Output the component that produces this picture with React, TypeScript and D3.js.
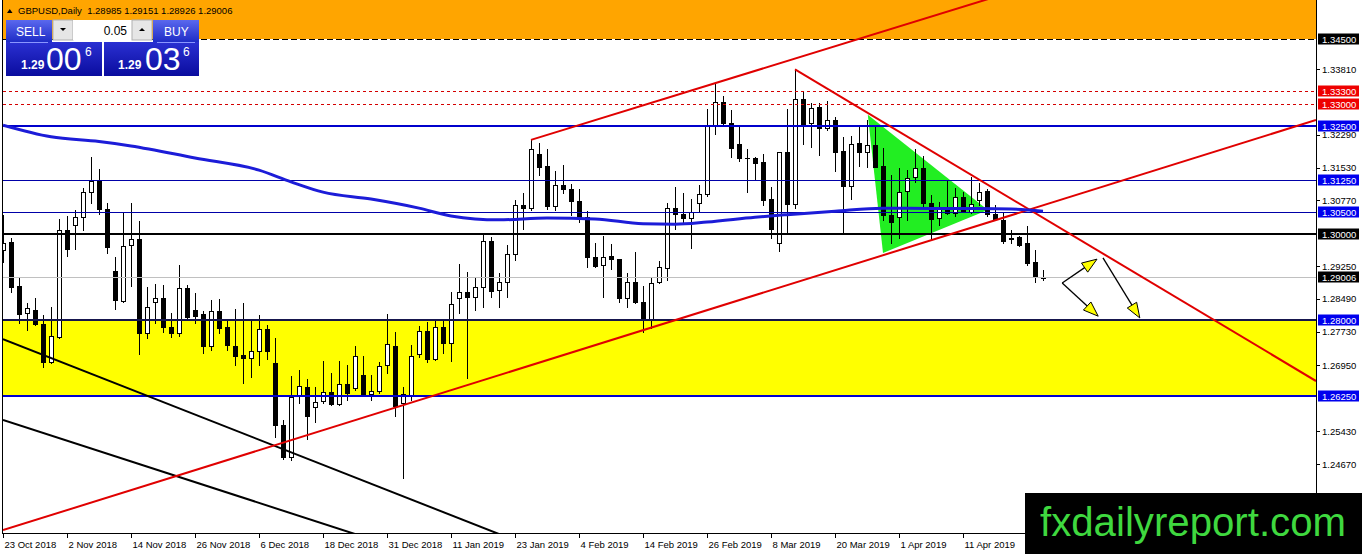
import * as d3 from "d3";
import React from "react";

// GBPUSD daily, 23 Oct 2018 .. 25 Apr 2019 (one bar per trading day)
const dateLabels = ["23 Oct 2018", "2 Nov 2018", "14 Nov 2018", "26 Nov 2018", "6 Dec 2018", "18 Dec 2018", "31 Dec 2018", "11 Jan 2019", "23 Jan 2019", "4 Feb 2019", "14 Feb 2019", "26 Feb 2019", "8 Mar 2019", "20 Mar 2019", "1 Apr 2019", "11 Apr 2019"];
const labelEvery = 8;

const opens = [
  1.2962, 1.2981, 1.2879, 1.2816, 1.2823, 1.2791, 1.2704, 1.2760, 1.3009, 1.3020,
  1.3038, 1.3096, 1.3122, 1.3056, 1.2914, 1.2844, 1.2974, 1.2987, 1.2769, 1.2841,
  1.2850, 1.2785, 1.2769, 1.2874, 1.2823, 1.2813, 1.2741, 1.2822, 1.2783, 1.2740,
  1.2719, 1.2712, 1.2729, 1.2779, 1.2700, 1.2557, 1.2483, 1.2627, 1.2646, 1.2598,
  1.2613, 1.2633, 1.2605, 1.2651, 1.2642, 1.2673, 1.2628, 1.2637, 1.2695, 1.2740,
  1.2607, 1.2627, 1.2721, 1.2775, 1.2709, 1.2783, 1.2746, 1.2850, 1.2864, 1.2854,
  1.2876, 1.2983, 1.2870, 1.2887, 1.2952, 1.3066, 1.3060, 1.3184, 1.3157, 1.3064,
  1.3113, 1.3103, 1.3076, 1.3038, 1.2947, 1.2928, 1.2948, 1.2941, 1.2852, 1.2888,
  1.2841, 1.2800, 1.2888, 1.2920, 1.3059, 1.3045, 1.3036, 1.3070, 1.3091, 1.3249,
  1.3304, 1.3257, 1.3207, 1.3174, 1.3176, 1.3165, 1.3080, 1.2979, 1.3188, 1.3069,
  1.3311, 1.3255, 1.3292, 1.3244, 1.3262, 1.3191, 1.3111, 1.3209, 1.3190, 1.3205,
  1.3157, 1.3043, 1.3038, 1.3099, 1.3132, 1.3153, 1.3070, 1.3036, 1.3056, 1.3047,
  1.3084, 1.3051, 1.3078, 1.3099, 1.3045, 1.3032, 1.2990, 1.2993, 1.2978, 1.2934,
  1.28985,
];
const highs = [
  1.3043, 1.2989, 1.2897, 1.2839, 1.2850, 1.2812, 1.2831, 1.3033, 1.3041, 1.3055,
  1.3106, 1.3177, 1.3150, 1.3070, 1.2945, 1.3049, 1.3072, 1.3030, 1.2877, 1.2883,
  1.2881, 1.2817, 1.2927, 1.2881, 1.2863, 1.2820, 1.2847, 1.2848, 1.2800, 1.2825,
  1.2840, 1.2800, 1.2812, 1.2788, 1.2758, 1.2569, 1.2671, 1.2685, 1.2664, 1.2646,
  1.2705, 1.2677, 1.2705, 1.2696, 1.2739, 1.2717, 1.2673, 1.2704, 1.2814, 1.2772,
  1.2646, 1.2742, 1.2786, 1.2796, 1.2800, 1.2800, 1.2864, 1.2929, 1.2912, 1.2897,
  1.3001, 1.2993, 1.2908, 1.2974, 1.3079, 1.3095, 1.3217, 1.3209, 1.3197, 1.3145,
  1.3160, 1.3116, 1.3103, 1.3053, 1.2978, 1.2995, 1.2976, 1.2942, 1.2908, 1.2958,
  1.2878, 1.2897, 1.2937, 1.3070, 1.3109, 1.3095, 1.3080, 1.3113, 1.3288, 1.3348,
  1.3319, 1.3286, 1.3249, 1.3197, 1.3177, 1.3184, 1.3109, 1.3189, 1.3288, 1.3380,
  1.3329, 1.3302, 1.3302, 1.3308, 1.3271, 1.3223, 1.3226, 1.3246, 1.3262, 1.3248,
  1.3198, 1.3136, 1.3151, 1.3147, 1.3195, 1.3180, 1.3089, 1.3074, 1.3122, 1.3105,
  1.3097, 1.3132, 1.3118, 1.3103, 1.3066, 1.3047, 1.3009, 1.2995, 1.3018, 1.2962,
  1.29151,
];
const lows = [
  1.2935, 1.2866, 1.2794, 1.2777, 1.2789, 1.2692, 1.2700, 1.2758, 1.2948, 1.2964,
  1.3009, 1.3070, 1.3046, 1.2956, 1.2825, 1.2843, 1.2879, 1.2722, 1.2758, 1.2793,
  1.2773, 1.2762, 1.2763, 1.2802, 1.2794, 1.2723, 1.2731, 1.2769, 1.2731, 1.2696,
  1.2655, 1.2669, 1.2696, 1.2709, 1.2530, 1.2478, 1.2476, 1.2607, 1.2526, 1.2565,
  1.2607, 1.2604, 1.2604, 1.2615, 1.2638, 1.2625, 1.2614, 1.2632, 1.2678, 1.2579,
  1.2434, 1.2614, 1.2714, 1.2704, 1.2708, 1.2723, 1.2705, 1.2817, 1.2666, 1.2823,
  1.2831, 1.2854, 1.2830, 1.2853, 1.2939, 1.3010, 1.3055, 1.3136, 1.3056, 1.3055,
  1.3095, 1.3043, 1.3028, 1.2922, 1.2924, 1.2854, 1.2918, 1.2843, 1.2831, 1.2839,
  1.2773, 1.2781, 1.2885, 1.2893, 1.3010, 1.3024, 1.2966, 1.3049, 1.3087, 1.3231,
  1.3254, 1.3177, 1.3167, 1.3097, 1.3124, 1.3066, 1.2989, 1.2959, 1.3002, 1.3059,
  1.3208, 1.3200, 1.3182, 1.3240, 1.3144, 1.3002, 1.3080, 1.3157, 1.3155, 1.3154,
  1.3032, 1.2978, 1.2990, 1.3032, 1.3120, 1.3062, 1.2985, 1.3020, 1.3046, 1.3041,
  1.3049, 1.3047, 1.3066, 1.3041, 1.3031, 1.2978, 1.2979, 1.2972, 1.2928, 1.2887,
  1.28926,
];
const closes = [
  1.2978, 1.2877, 1.2814, 1.2827, 1.2791, 1.2704, 1.2763, 1.3009, 1.2964, 1.3038,
  1.3096, 1.3122, 1.3056, 1.2968, 1.2847, 1.2972, 1.2987, 1.2769, 1.2830, 1.2850,
  1.2783, 1.2771, 1.2874, 1.2808, 1.2810, 1.2741, 1.2822, 1.2781, 1.2742, 1.2717,
  1.2712, 1.2729, 1.2779, 1.2729, 1.2557, 1.2483, 1.2623, 1.2648, 1.2579, 1.2611,
  1.2634, 1.2605, 1.2651, 1.2631, 1.2717, 1.2627, 1.2637, 1.2694, 1.2744, 1.2602,
  1.2628, 1.2717, 1.2775, 1.2709, 1.2783, 1.2746, 1.2837, 1.2864, 1.2854, 1.2876,
  1.2983, 1.2868, 1.2887, 1.2952, 1.3066, 1.3060, 1.3196, 1.3155, 1.3064, 1.3113,
  1.3103, 1.3076, 1.3038, 1.2945, 1.2925, 1.2947, 1.2941, 1.2852, 1.2888, 1.2841,
  1.2800, 1.2885, 1.2922, 1.3059, 1.3045, 1.3036, 1.3049, 1.3091, 1.3249, 1.3304,
  1.3257, 1.3199, 1.3174, 1.3175, 1.3164, 1.3078, 1.3010, 1.3188, 1.3069, 1.3311,
  1.3254, 1.3290, 1.3244, 1.3262, 1.3190, 1.3111, 1.3207, 1.3190, 1.3205, 1.3155,
  1.3043, 1.3028, 1.3097, 1.3128, 1.3153, 1.3070, 1.3033, 1.3056, 1.3047, 1.3084,
  1.3051, 1.3068, 1.3097, 1.3045, 1.3034, 1.2984, 1.2988, 1.2974, 1.2933, 1.2899,
  1.29006,
];

// 200-day moving average, read at a few bars
const maBars = [0, 6, 12, 16, 24, 32, 36, 40, 46, 52, 56, 62, 68, 74, 80, 84, 88, 94, 98, 104, 110, 116, 122, 126, 130];
const maValues = [1.3251, 1.3224, 1.3213, 1.3203, 1.3175, 1.3147, 1.3120, 1.3096, 1.3080, 1.3059, 1.3041, 1.3032, 1.3036, 1.3034, 1.3023, 1.3022, 1.3027, 1.3038, 1.3044, 1.3052, 1.3059, 1.3058, 1.3058, 1.3057, 1.3052];

// price scale labels
const scaleTicks = [1.3381, 1.3229, 1.3153, 1.3077, 1.2925, 1.2849, 1.2773, 1.2695, 1.2543, 1.2467, 1.2391];

// horizontal levels
const levels = [1.345, 1.333, 1.33, 1.325, 1.3125, 1.305, 1.3, 1.28, 1.2625];
const bidPrice = 1.29006;
const resistanceZone = [1.345, 1.36];
const supportZone = [1.2625, 1.28];

// trend lines as [bar, price] pairs
const channelLow = [[0, 1.2314], [164.125, 1.3263]];
const channelHigh = [[66, 1.3217], [130, 1.3582]];
const fallingLine = [[99, 1.3380], [164.125, 1.2659]];
const blackUpper = [[0, 1.2756], [62, 1.2305]];
const blackLower = [[0, 1.2569], [44, 1.2305]];
const pennant = [[108.1, 1.3275], [110, 1.2955], [123.1, 1.3055]];

// projection arrows
const arrowStarts = [[132.4, 1.2886], [132.4, 1.2886], [137.5, 1.2944]];
const arrowEnds = [[136.75, 1.2941], [136.9, 1.2809], [142.1, 1.2805]];

const W = 1362;
const H = 554;
const plotL = 3;
const plotR = 1316;
const plotB = 533;

const lvlStroke = ["#000000", "#d40000", "#d40000", "#0000cc", "#0000a8", "#0000a8", "#000000", "#16164e", "#0000cc"];
const lvlWidth = [1, 1, 1, 2, 1, 1, 2, 2, 2];
const lvlDash = ["6,3", "3,3", "3,3", "", "", "", "", "", ""];
const lvlLabel = ["#000000", "#ee0000", "#ee0000", "#0000ee", "#0000ee", "#0000ee", "#000000", "#0000ee", "#0000ee"];

const App = () => {
  React.useEffect(() => {
    document.body.style.margin = "0";
  }, []);

  const x = d3.scaleLinear().domain([0, 130]).range([3, 1043]);
  const y = d3.scaleLinear().domain([1.2467, 1.3381]).range([464, 69]);

  const seg = (p: number[][]) => `M${x(p[0][0])},${y(p[0][1])}L${x(p[1][0])},${y(p[1][1])}`;
  const crisp = (v: number, w: number) => (w % 2 === 1 ? Math.round(v) + 0.5 : Math.round(v));

  const maLine = d3.line<number>()
    .x((d, i) => x(maBars[i]))
    .y((d) => y(d))
    .curve(d3.curveMonotoneX);

  const font = "'Liberation Sans', Arial, sans-serif";

  const arrowHead = (s: number[], e: number[]) => {
    const x1 = x(s[0]), y1 = y(s[1]), x2 = x(e[0]), y2 = y(e[1]);
    const a = Math.atan2(y2 - y1, x2 - x1);
    const len = 15, half = 5.5;
    const bx = x2 - len * Math.cos(a), by = y2 - len * Math.sin(a);
    const px = -Math.sin(a) * half, py = Math.cos(a) * half;
    return { shaft: `M${x1},${y1}L${bx},${by}`, head: `${x2},${y2} ${bx + px},${by + py} ${bx - px},${by - py}` };
  };

  return (
    <svg width={W} height={H} style={{ position: "absolute", left: 0, top: 0, display: "block", fontFamily: font }}>
      <defs>
        <clipPath id="plot">
          <rect x={plotL} y={0} width={plotR - plotL} height={plotB} />
        </clipPath>
        <linearGradient id="btn" x1="0" y1="0" x2="0" y2="1">
          <stop offset="0" stopColor="#5a68ee" />
          <stop offset="1" stopColor="#1e2cc6" />
        </linearGradient>
        <linearGradient id="quote" x1="0" y1="0" x2="0" y2="1">
          <stop offset="0" stopColor="#2a30d2" />
          <stop offset="1" stopColor="#0a0c9e" />
        </linearGradient>
      </defs>
      <rect x={0} y={0} width={W} height={H} fill="#ffffff" />

      <g clipPath="url(#plot)">
        {/* zones */}
        <rect x={plotL} y={y(resistanceZone[1])} width={plotR - plotL} height={y(resistanceZone[0]) - y(resistanceZone[1])} fill="#ffa500" />
        <rect x={plotL} y={y(supportZone[1])} width={plotR - plotL} height={y(supportZone[0]) - y(supportZone[1])} fill="#ffff00" />
        <polygon points={pennant.map((p) => `${x(p[0])},${y(p[1])}`).join(" ")} fill="#22ee22" />

        {/* candles */}
        {opens.map((o, i) => {
          const c = closes[i];
          const px = Math.round(x(i));
          const top = Math.round(y(Math.max(o, c)));
          const bot = Math.round(y(Math.min(o, c)));
          const bull = c >= o;
          return (
            <g key={i}>
              <line x1={px + 0.5} x2={px + 0.5} y1={Math.round(y(highs[i]))} y2={Math.round(y(lows[i])) + 1} stroke="#000" />
              {bot - top < 1 ? (
                <line x1={px - 2} x2={px + 3} y1={top + 0.5} y2={top + 0.5} stroke="#000" />
              ) : (
                <rect x={px - 1.5} y={top + 0.5} width={4} height={bot - top} fill={bull ? "#fff" : "#000"} stroke="#000" />
              )}
            </g>
          );
        })}

        {/* levels */}
        <line x1={plotL} x2={plotR} y1={crisp(y(bidPrice), 1)} y2={crisp(y(bidPrice), 1)} stroke="#c0c0c0" />
        {levels.map((v, i) => (
          <g key={v}>
            {i === 0 && <line x1={plotL} x2={plotR} y1={crisp(y(v), 1)} y2={crisp(y(v), 1)} stroke="#fff" />}
            <line
              x1={plotL}
              x2={plotR}
              y1={crisp(y(v), lvlWidth[i])}
              y2={crisp(y(v), lvlWidth[i])}
              stroke={lvlStroke[i]}
              strokeWidth={lvlWidth[i]}
              strokeDasharray={lvlDash[i] || undefined}
            />
          </g>
        ))}

        {/* trend lines */}
        <path d={seg(blackUpper)} stroke="#000" strokeWidth={2} fill="none" />
        <path d={seg(blackLower)} stroke="#000" strokeWidth={2} fill="none" />
        <path d={seg(channelLow)} stroke="#e00000" strokeWidth={2} fill="none" />
        <path d={seg(channelHigh)} stroke="#e00000" strokeWidth={2} fill="none" />
        <path d={seg(fallingLine)} stroke="#e00000" strokeWidth={2} fill="none" />

        {/* moving average */}
        <path d={maLine(maValues) || ""} stroke="#1c1cd8" strokeWidth={3} fill="none" />

        {/* arrows */}
        {arrowStarts.map((s, i) => {
          const a = arrowHead(s, arrowEnds[i]);
          return (
            <g key={i}>
              <path d={a.shaft} stroke="#000" strokeWidth={1.3} fill="none" />
              <polygon points={a.head} fill="#ffff00" stroke="#000" strokeWidth={1} />
            </g>
          );
        })}
      </g>

      {/* frame */}
      <line x1={2.5} x2={2.5} y1={0} y2={plotB} stroke="#000" />
      <line x1={2} x2={plotR + 1} y1={plotB + 0.5} y2={plotB + 0.5} stroke="#000" />
      <line x1={plotR + 0.5} x2={plotR + 0.5} y1={0} y2={plotB + 1} stroke="#000" />

      {/* date axis */}
      {dateLabels.map((d, k) => {
        const px = Math.round(x(k * labelEvery)) + 0.5;
        return (
          <g key={d}>
            <line x1={px} x2={px} y1={plotB} y2={plotB + 5} stroke="#000" />
            <text x={px + 1} y={548} fontSize={9.5} fill="#000">{d}</text>
          </g>
        );
      })}

      {/* price axis */}
      {scaleTicks.map((v) => (
        <g key={v}>
          <line x1={plotR} x2={plotR + 4} y1={Math.round(y(v)) + 0.5} y2={Math.round(y(v)) + 0.5} stroke="#000" />
          <text x={1322} y={y(v) + 3.5} fontSize={9.5} fill="#000">{v.toFixed(5)}</text>
        </g>
      ))}
      {levels.map((v, i) => (
        <g key={"l" + v}>
          <rect x={1318} y={Math.round(y(v)) - 5.5} width={41} height={11} fill={lvlLabel[i]} />
          <text x={1322} y={Math.round(y(v)) + 3.5} fontSize={9.5} fill="#fff">{v.toFixed(5)}</text>
        </g>
      ))}
      <rect x={1318} y={Math.round(y(bidPrice)) - 5.5} width={41} height={11} fill="#000" />
      <text x={1322} y={Math.round(y(bidPrice)) + 3.5} fontSize={9.5} fill="#fff">{bidPrice.toFixed(5)}</text>

      {/* header */}
      <polygon points="7,13 12.5,13 9.75,9" fill="#000" />
      <text x={18} y={14} fontSize={9.5} fill="#000" style={{ whiteSpace: "pre" }}>
        {`GBPUSD,Daily  ${opens[130].toFixed(5)} ${highs[130].toFixed(5)} ${lows[130].toFixed(5)} ${closes[130].toFixed(5)}`}
      </text>

      {/* one-click trading panel */}
      <rect x={6} y={20} width={46} height={22} fill="url(#btn)" />
      <rect x={153} y={20} width={46} height={22} fill="url(#btn)" />
      <rect x={53} y={20} width={20} height={20} fill="#e6e6e6" stroke="#b0b0b0" />
      <polygon points="60,28 66,28 63,31" fill="#000" />
      <rect x={73} y={20} width={59} height={20} fill="#ffffff" />
      <text x={127} y={35} fontSize={12} fill="#000" textAnchor="end">0.05</text>
      <rect x={132} y={20} width={20} height={20} fill="#e6e6e6" stroke="#b0b0b0" />
      <polygon points="139,31 145,31 142,28" fill="#000" />
      <text x={16} y={36} fontSize={12} fill="#fff">SELL</text>
      <text x={164} y={36} fontSize={12} fill="#fff">BUY</text>
      <rect x={6} y={42} width={96} height={34} fill="url(#quote)" />
      <rect x={104} y={42} width={95} height={34} fill="url(#quote)" />
      <line x1={10} x2={48} y1={42.5} y2={42.5} stroke="#8a96ff" />
      <line x1={157} x2={195} y1={42.5} y2={42.5} stroke="#8a96ff" />
      <text x={21} y={69} fontSize={12} fontWeight="bold" fill="#fff">1.29</text>
      <text x={46} y={70} fontSize={32} fill="#fff">00</text>
      <text x={85} y={56} fontSize={12} fill="#fff">6</text>
      <text x={118} y={69} fontSize={12} fontWeight="bold" fill="#fff">1.29</text>
      <text x={145} y={70} fontSize={32} fill="#fff">03</text>
      <text x={183} y={56} fontSize={12} fill="#fff">6</text>

      {/* watermark */}
      <rect x={1025} y={493} width={W - 1025} height={H - 493} fill="#000" />
      <text x={1040} y={536} fontSize={40} fill="#3fd83f" textLength={306} lengthAdjust="spacingAndGlyphs">fxdailyreport.com</text>
    </svg>
  );
};

export default App;
